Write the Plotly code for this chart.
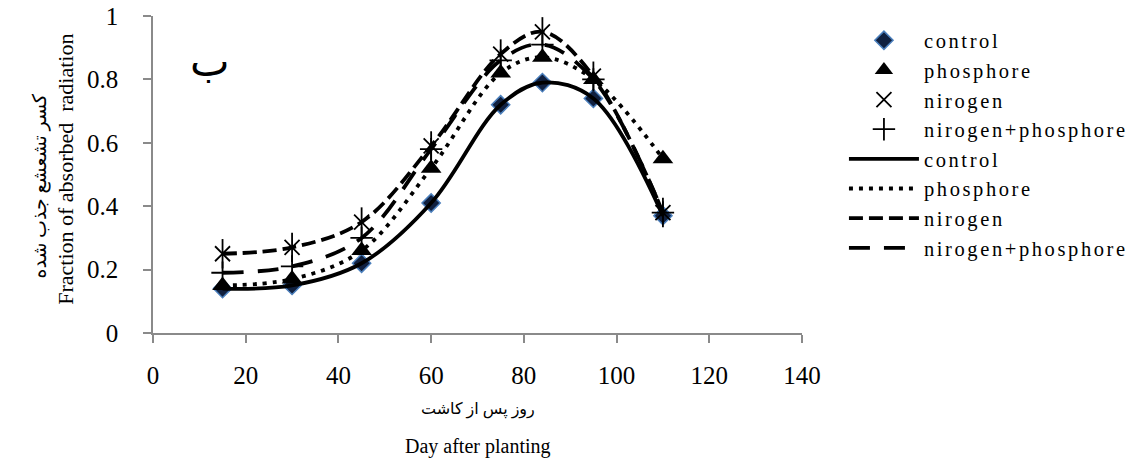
import plotly.graph_objects as go

# Days after planting and fraction of absorbed radiation per treatment
days = [15, 30, 45, 60, 75, 84, 95, 110]
control = [0.14, 0.15, 0.22, 0.41, 0.72, 0.79, 0.74, 0.37]
phosphore = [0.15, 0.17, 0.26, 0.52, 0.82, 0.87, 0.80, 0.55]
nirogen = [0.25, 0.27, 0.35, 0.59, 0.88, 0.95, 0.81, 0.38]
nirogen_phosphore = [0.19, 0.21, 0.30, 0.58, 0.86, 0.91, 0.80, 0.38]

x_ticks = [0, 20, 40, 60, 80, 100, 120, 140]
y_ticks = [0, 0.2, 0.4, 0.6, 0.8, 1]
y_tick_text = ["0", "0.2", "0.4", "0.6", "0.8", "1"]

SERIF = "Liberation Serif, DejaVu Sans, serif"
AXIS_GREY = "#8a8a8a"


def spaced(label):
    # legend labels are drawn slightly widened
    return f"<span style='letter-spacing:2.6px'>{label}</span>"


fig = go.Figure()

# Marker-only series
fig.add_trace(go.Scatter(
    x=days, y=control, mode="markers", name=spaced("control"),
    marker=dict(symbol="diamond", size=14, color="#10203f",
                line=dict(color="#4a7ebb", width=1.5)),
))
fig.add_trace(go.Scatter(
    x=days, y=phosphore, mode="markers", name=spaced("phosphore"),
    marker=dict(symbol="triangle-up", size=18, color="black"),
))
fig.add_trace(go.Scatter(
    x=days, y=nirogen, mode="markers", name=spaced("nirogen"),
    marker=dict(symbol="x-thin-open", size=15, color="black",
                line=dict(color="black", width=1.8)),
))
fig.add_trace(go.Scatter(
    x=days, y=nirogen, mode="markers", showlegend=False, hoverinfo="skip",
    marker=dict(symbol="line-ns-open", size=21, color="black",
                line=dict(color="black", width=1.8)),
))
fig.add_trace(go.Scatter(
    x=days, y=nirogen_phosphore, mode="markers",
    name=spaced("nirogen+phosphore"),
    marker=dict(symbol="cross-thin-open", size=16, color="black",
                line=dict(color="black", width=1.8)),
))

# Smoothed line series
line_specs = [
    ("control", control, "solid"),
    ("phosphore", phosphore, "4px,6px"),
    ("nirogen", nirogen, "14px,6px"),
    ("nirogen+phosphore", nirogen_phosphore, "21px,14px"),
]
for name, values, dash in line_specs:
    fig.add_trace(go.Scatter(
        x=days, y=values, mode="lines", name=spaced(name),
        line=dict(color="black", width=3.8, dash=dash,
                  shape="spline", smoothing=1.0),
    ))

axis_common = dict(
    showgrid=False, zeroline=False, showline=True,
    linecolor=AXIS_GREY, linewidth=1.5,
    ticks="outside", ticklen=8, tickwidth=1.5, tickcolor=AXIS_GREY,
    tickfont=dict(family=SERIF, size=25, color="black"),
    automargin=False,
)

fig.update_xaxes(range=[0, 140], tickvals=x_ticks,
                 ticktext=[str(v) for v in x_ticks],
                 ticklabelstandoff=11, **axis_common)
fig.update_yaxes(range=[0, 1], tickvals=y_ticks, ticktext=y_tick_text,
                 ticklabelstandoff=20, **axis_common)

# Y-axis titles (Persian and English)
fig.add_annotation(x=-0.1737, y=0.466, xref="paper", yref="paper",
                   xanchor="center", yanchor="middle",
                   text="کسر تشعشع جذب شده", showarrow=False, textangle=-90,
                   font=dict(family=SERIF, size=19, color="black"))
fig.add_annotation(x=-0.135, y=0.516, xref="paper", yref="paper",
                   xanchor="center", yanchor="middle",
                   text="Fraction of absorbed  radiation", showarrow=False,
                   textangle=-90,
                   font=dict(family=SERIF, size=22, color="black"))

# X-axis titles (Persian and English)
fig.add_annotation(x=0.5, y=-0.205, xref="paper", yref="paper",
                   text="روز پس از کاشت", showarrow=False,
                   font=dict(family=SERIF, size=16, color="black"),
                   xanchor="center", yanchor="top")
fig.add_annotation(x=0.5, y=-0.315, xref="paper", yref="paper",
                   text="Day after planting", showarrow=False,
                   font=dict(family=SERIF, size=20, color="black"),
                   xanchor="center", yanchor="top")

# Panel letter
fig.add_annotation(x=12.4, y=0.855, xref="x", yref="y",
                   text="ب", showarrow=False,
                   font=dict(family=SERIF, size=42, color="black"))

fig.update_layout(
    width=1140, height=465,
    margin=dict(l=153, r=338, t=16, b=132),
    paper_bgcolor="white", plot_bgcolor="white",
    font=dict(family=SERIF, color="black"),
    showlegend=True,
    legend=dict(
        xref="container", yref="container",
        x=0.7403, y=0.9561, xanchor="left", yanchor="top",
        font=dict(family=SERIF, size=20.5, color="black"),
        itemwidth=70, tracegroupgap=0, maxheight=440,
        bgcolor="rgba(0,0,0,0)",
    ),
)

fig.write_html("out.html")
